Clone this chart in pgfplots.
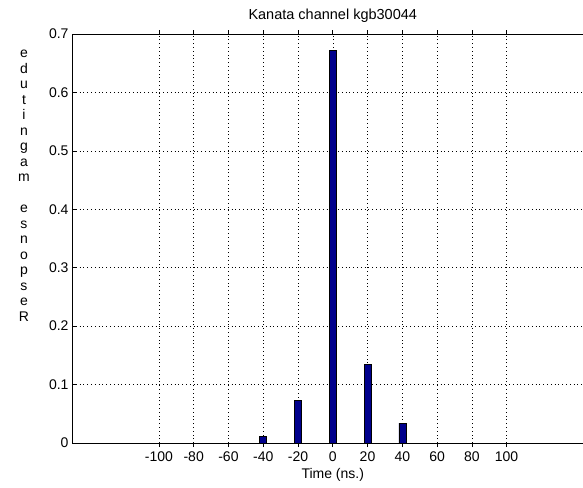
\documentclass[border=0pt]{standalone}
\usepackage{pgfplots}
\pgfplotsset{compat=1.18}
\usepackage{fontspec}
\setmainfont{Liberation Sans}
\definecolor{barblue}{RGB}{0,0,140}
\begin{document}
\begin{tikzpicture}[x=1pt,y=1pt]
\begin{axis}[
  at={(72pt,-443pt)}, anchor=south west,
  scale only axis,
  width=521.5pt, height=409pt,
  xmin=-150, xmax=150, ymin=0, ymax=0.7,
  xtick={-100,-80,...,100},
  ytick={0,0.1,...,0.7},
  yticklabel style={/pgf/number format/fixed,/pgf/number format/precision=1},
  /pgf/number format/assume math mode=true,
  tick label style={font=\fontsize{14}{16}\selectfont},
  xticklabel style={yshift=-1pt},
  yticklabel style={xshift=0pt},
  tick align=inside,
  major tick length=4pt,
  tick style={black, line width=0.6pt},
  axis line style={black, line width=0.8pt},
  grid=major,
  major grid style={black, line width=0.5pt, dash pattern=on 0.8pt off 3pt},
  title={Kanata channel kgb30044},
  title style={font=\fontsize{14.5}{16}\selectfont, yshift=2pt},
  xlabel={Time (ns.)},
  xlabel style={font=\fontsize{14}{16}\selectfont, yshift=0pt},
  ybar, bar width=4,
  clip=false,
]
\addplot[fill=barblue, draw=black, line width=0.5pt, bar shift=0pt] coordinates {
  (-40,0.0115) (-20,0.073) (0,0.6726) (20,0.135) (40,0.034)
};
\end{axis}
\node[anchor=north, inner sep=0pt, align=center, font=\fontsize{14}{15.5}\selectfont] at (24pt,-50pt)
  {e\\d\\u\\t\\i\\n\\g\\a\\m\\[15.5pt]e\\s\\n\\o\\p\\s\\e\\R};
\pgfresetboundingbox
\path[use as bounding box] (0,0) rectangle (583pt,-487pt);
\end{tikzpicture}
\end{document}
